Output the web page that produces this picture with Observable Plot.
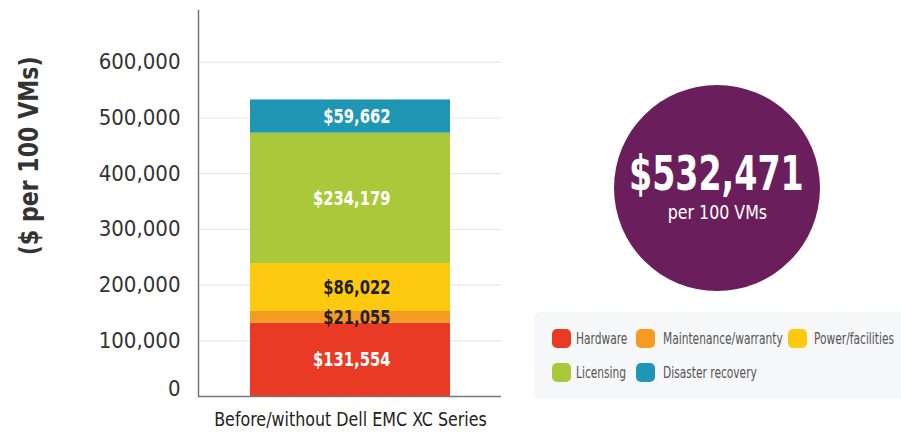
<!DOCTYPE html>
<html><head><meta charset="utf-8">
<script src="https://cdn.jsdelivr.net/npm/d3@7"></script>
<script src="https://cdn.jsdelivr.net/npm/@observablehq/plot@0.6"></script>
<style>
body{margin:0;background:#fff;}
#wrap{position:relative;width:901px;height:438px;overflow:hidden;font-family:"DejaVu Sans Condensed","Roboto",sans-serif;}
#chart{position:absolute;left:0;top:0;}
#circle{position:absolute;left:614px;top:85px;width:206px;height:206px;border-radius:50%;background:#6a1f5c;color:#fff;text-align:center;}
#big{position:absolute;left:-11px;width:206px;top:64px;font-size:48px;font-weight:bold;line-height:48px;white-space:nowrap;}
#small{position:absolute;left:0;width:206px;top:117px;font-size:20px;line-height:20px;white-space:nowrap;}
#legend{position:absolute;left:534px;top:312px;width:380px;height:87px;background:#f6f7f8;border-radius:6px;}
.item{position:absolute;font-size:16px;color:#555;line-height:19px;white-space:nowrap;transform-origin:left center;}
.sw{position:absolute;width:19px;height:19px;border-radius:5px;}
.in{display:inline-block;transform-origin:center center;}
</style></head>
<body>
<div id="wrap">
  <div id="chart"></div>
  <div id="circle"><div id="big"><span class="in" id="bigt"></span></div><div id="small"><span class="in" id="smallt"></span></div></div>
  <div id="legend"></div>
</div>
<script>
const categories = ["Hardware","Maintenance/warranty","Power/facilities","Licensing","Disaster recovery"];
const values = [131554, 21055, 86022, 234179, 59662];
const colors = ["#e83a25","#f59a22","#fdca10","#aac93a","#1f97b4"];
const labelColors = ["#ffffff","#231f20","#231f20","#ffffff","#ffffff"];
const group = "Before/without Dell EMC XC Series";
const yTicks = [0,100000,200000,300000,400000,500000,600000];
const yTitle = "($ per 100 VMs)";
const total = 532471;
const totalSub = "per 100 VMs";
const legendRows = [[0,1,2],[3,4]];

const fmt = d3.format(",");
const data = categories.map((c,i)=>({group, category:c, value:values[i], label:"$"+fmt(values[i]), lc:labelColors[i]}));
const font = '"DejaVu Sans Condensed",sans-serif';

const chart = Plot.plot({
  width: 901, height: 438,
  marginLeft: 198, marginRight: 400, marginTop: 10, marginBottom: 42,
  style: {fontFamily: font, background: "transparent"},
  x: {domain: [group], padding: 0.205, axis: null},
  y: {domain: [0, 693000], axis: null},
  color: {domain: categories, range: colors},
  marks: [
    Plot.gridY(yTicks.filter(d=>d>0), {stroke:"#e8e8e8", strokeOpacity:1, strokeWidth:1.2}),
    Plot.barY(data, {x:"group", y:"value", fill:"category"}),
    Plot.text(data, Plot.stackY({x:"group", y:"value", text:"label", fill:"lc", textAnchor:"end", dx:40, fontSize:20, fontWeight:"bold", className:"barlab"})),
    Plot.axisY(yTicks.filter(d=>d>0), {tickSize:0, tickPadding:18, tickFormat:fmt, fontSize:22, fill:"#333", label:null}),
    Plot.axisY([0], {tickSize:0, tickPadding:18, tickFormat:fmt, fontSize:22, fill:"#333", dy:-8, label:null}),
    Plot.ruleY([0], {stroke:"#777", strokeWidth:1.5}),
    Plot.frame({anchor:"left", stroke:"#777", strokeWidth:1.5}),
    Plot.text([group], {x:d=>d, frameAnchor:"bottom", dy:29, fontSize:19, fill:"#231f20", className:"xlab"}),
    Plot.text([yTitle], {frameAnchor:"left", dx:-169, y:[432000], rotate:-90, textAnchor:"middle", fontSize:27, fontWeight:"bold", fill:"#333", className:"ytitle"})
  ]
});
document.getElementById("chart").appendChild(chart);

function condenseSvg(sel, f){
  chart.querySelectorAll(sel).forEach(t=>{
    const L = t.getComputedTextLength();
    t.setAttribute("textLength", (L*f).toFixed(1));
    t.setAttribute("lengthAdjust","spacingAndGlyphs");
  });
}
condenseSvg(".barlab text", 0.82);
condenseSvg(".xlab text", 0.93);
condenseSvg(".ytitle text", 0.91);

document.getElementById("bigt").textContent = "$" + fmt(total);
document.getElementById("smallt").textContent = totalSub;
document.getElementById("bigt").style.transform = "scaleX(0.77)";
document.getElementById("smallt").style.transform = "scaleX(0.88)";

const lg = document.getElementById("legend");
const colX = [[18,42],[102,129],[254,280]];
legendRows.forEach((row,r)=>{
  row.forEach((idx,c)=>{
    const top = r===0 ? 17 : 51;
    const sw = document.createElement("div");
    sw.className="sw"; sw.style.left=colX[c][0]+"px"; sw.style.top=top+"px"; sw.style.background=colors[idx];
    lg.appendChild(sw);
    const t = document.createElement("div");
    t.className="item"; t.style.left=colX[c][1]+"px"; t.style.top=(top)+"px"; t.textContent=categories[idx];
    t.style.transform="scaleX(0.74)";
    lg.appendChild(t);
  });
});
</script>
</body></html>
